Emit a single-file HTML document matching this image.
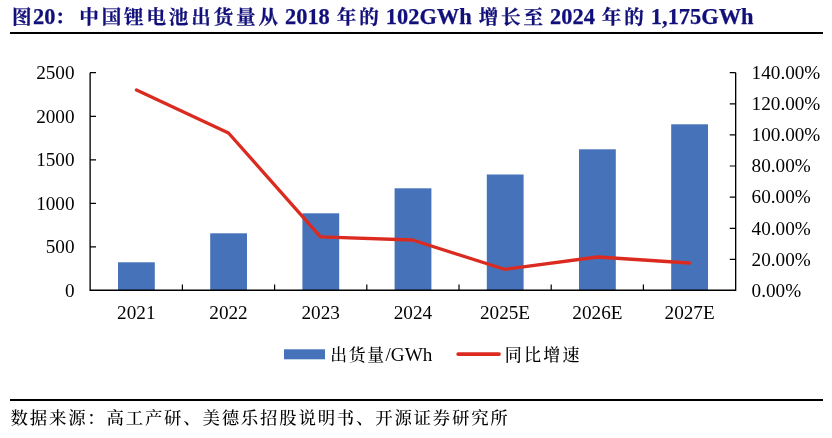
<!DOCTYPE html>
<html lang="zh-CN">
<head>
<meta charset="utf-8">
<title>图20</title>
<style>
html,body{margin:0;padding:0;background:#fff;}
body{width:832px;height:438px;position:relative;overflow:hidden;font-family:"Liberation Serif","Noto Serif CJK SC",serif;color:#000;}
.title{position:absolute;left:10.7px;top:0.6px;height:32px;font-size:22.4px;line-height:32px;font-weight:bold;color:#110f7a;-webkit-text-stroke:0.25px #110f7a;white-space:pre;}
.title .c{font-size:19.6px;letter-spacing:2.8px;position:relative;left:1.4px;top:0.7px;}
.title .p{left:-0.4px;}
.rule1{position:absolute;left:10px;top:32px;width:813px;height:2px;background:#000;}
.rule2{position:absolute;left:10px;top:398.5px;width:813px;height:2px;background:#000;}
.src{position:absolute;left:9.7px;top:404.7px;font-size:17.4px;line-height:26px;white-space:pre;letter-spacing:1.8px;text-indent:0.9px;font-weight:500;}
svg{position:absolute;left:0;top:0;}
svg text{font-family:"Liberation Serif","Noto Serif CJK SC",serif;font-size:19.2px;fill:#000;}
svg .c{font-size:17px;letter-spacing:1.9px;font-weight:500;}
</style>
</head>
<body>
<div class="title"><span class="c">图</span>20<span class="c p">：</span><span class="c">中国锂电池出货量从</span> 2018 <span class="c">年的</span> 102GWh <span class="c">增长至</span> 2024 <span class="c">年的</span> 1,175GWh</div>
<div class="rule1"></div>
<svg width="832" height="438" viewBox="0 0 832 438">
  <!-- bars -->
  <g fill="#4672b9">
    <rect x="118.0" y="262.3" width="36.8" height="28.2"/>
    <rect x="210.2" y="233.3" width="36.8" height="57.2"/>
    <rect x="302.4" y="213.3" width="36.8" height="77.2"/>
    <rect x="394.6" y="188.3" width="36.8" height="102.2"/>
    <rect x="486.8" y="174.5" width="36.8" height="116.0"/>
    <rect x="579.0" y="149.3" width="36.8" height="141.2"/>
    <rect x="671.2" y="124.3" width="36.8" height="166.2"/>
  </g>
  <!-- axes -->
  <g stroke="#000" stroke-width="1.2" fill="none">
    <path d="M90.12 72.7V290.25H735.67V72.7" stroke-width="1.33"/>
    <path d="M90 72.7h6M90 116.3h6M90 159.8h6M90 203.4h6M90 246.9h6"/>
    <path d="M735.75 72.7h-6M735.75 103.8h-6M735.75 134.9h-6M735.75 166h-6M735.75 197.2h-6M735.75 228.3h-6M735.75 259.4h-6"/>
    <path d="M182.4 290v-5.5M274.6 290v-5.5M366.8 290v-5.5M459 290v-5.5M551.2 290v-5.5M643.4 290v-5.5"/>
  </g>
  <!-- line -->
  <polyline fill="none" stroke="#db2b20" stroke-width="3.3" stroke-linejoin="round" stroke-linecap="round"
    points="136.5,90 228.5,133 320.5,236.8 412.5,240 504.5,269.3 597.5,257 689.5,263"/>
  <!-- left labels -->
  <g text-anchor="end">
    <text x="74.5" y="79.2">2500</text>
    <text x="74.5" y="122.7">2000</text>
    <text x="74.5" y="166.2">1500</text>
    <text x="74.5" y="209.7">1000</text>
    <text x="74.5" y="253.2">500</text>
    <text x="74.5" y="296.7">0</text>
  </g>
  <!-- right labels -->
  <g text-anchor="start">
    <text x="751.6" y="78.7">140.00%</text>
    <text x="751.6" y="109.9">120.00%</text>
    <text x="751.6" y="141.1">100.00%</text>
    <text x="751.6" y="172.3">80.00%</text>
    <text x="751.6" y="203.4">60.00%</text>
    <text x="751.6" y="234.6">40.00%</text>
    <text x="751.6" y="265.8">20.00%</text>
    <text x="751.6" y="297.0">0.00%</text>
  </g>
  <!-- x labels -->
  <g text-anchor="middle">
    <text x="136.3" y="318.9">2021</text>
    <text x="228.5" y="318.9">2022</text>
    <text x="320.7" y="318.9">2023</text>
    <text x="412.9" y="318.9">2024</text>
    <text x="505" y="318.9">2025E</text>
    <text x="597.4" y="318.9">2026E</text>
    <text x="689.6" y="318.9">2027E</text>
  </g>
  <!-- legend -->
  <rect x="284" y="349.3" width="41" height="10" fill="#4672b9"/>
  <text x="330.2" y="361.2"><tspan class="c" style="font-size:16.8px;letter-spacing:1.8px">出货量</tspan><tspan x="385.5">/GWh</tspan></text>
  <line x1="458.2" y1="354.1" x2="499" y2="354.1" stroke="#db2b20" stroke-width="3.8" stroke-linecap="round"/>
  <text x="504.8" y="361.2"><tspan class="c" style="letter-spacing:2.2px">同比增速</tspan></text>
</svg>
<div class="rule2"></div>
<div class="src">数据来源：高工产研、美德乐招股说明书、开源证券研究所</div>
</body>
</html>
